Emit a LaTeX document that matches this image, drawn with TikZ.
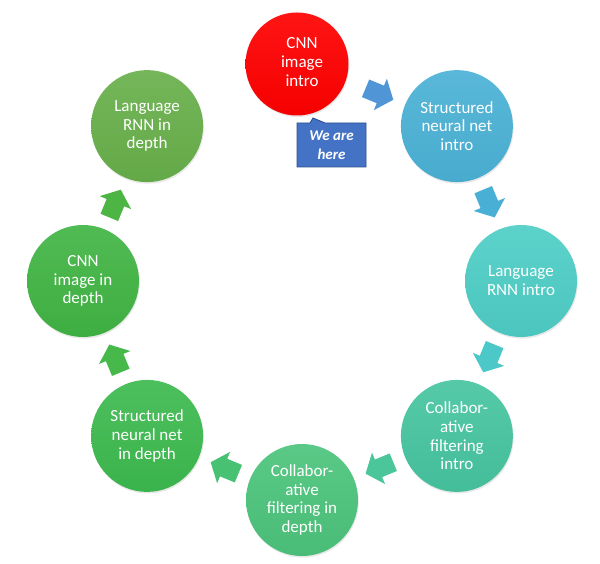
\documentclass[tikz,border=0pt]{standalone}
\usepackage{fontspec}
\setmainfont{Carlito}
\usetikzlibrary{calc,shadows}
\definecolor{cA}{HTML}{FF0000}
\definecolor{cB}{HTML}{4BB2D6}
\definecolor{cC}{HTML}{4ECEC6}
\definecolor{cD}{HTML}{47C5A0}
\definecolor{cE}{HTML}{4CC47C}
\definecolor{cF}{HTML}{3DBA4F}
\definecolor{cG}{HTML}{41B544}
\definecolor{cH}{HTML}{68B04B}
\definecolor{aA}{HTML}{5096D6}
\definecolor{aB}{HTML}{4AAFD5}
\definecolor{aC}{HTML}{4CC8C8}
\definecolor{aD}{HTML}{4BC69A}
\definecolor{aE}{HTML}{48C272}
\definecolor{aF}{HTML}{46B94A}
\definecolor{aG}{HTML}{4CB544}
\definecolor{calloutfill}{HTML}{4472C4}
\definecolor{calloutline}{HTML}{2F528F}
\begin{document}
\begin{tikzpicture}[x=1pt,y=-1pt,
  circ/.style={circle, minimum size=112pt, inner sep=0pt, align=center,
    text=white, font=\fontsize{17}{18.8}\selectfont,
    top color=#1!92!white, bottom color=#1!96!black,
    drop shadow={opacity=0.18, shadow xshift=0.8pt, shadow yshift=-1.6pt}},
  lbl/.style={align=center, text=white, font=\fontsize{17}{18.8}\selectfont, inner sep=0pt},
  barrow/.pic={\fill[pic actions] (-15,-9.5) -- (1,-9.5) -- (1,-17) -- (15,0) -- (1,17) -- (1,9.5) -- (-15,9.5) -- cycle;}
  ]
\fill[white] (0,0) rectangle (600,564);
\useasboundingbox (0,0) rectangle (600,564);

% ring positions
\coordinate (p1) at (302,62);
\node[circ=cA, minimum size=103pt] (c1) at (297,64) {};
\node[lbl] (t1) at (302,62) {CNN\\image\\intro};
\node[circ=cB] (c2) at (456.9,126.1) {Structured\\neural net\\intro};
\node[circ=cC] (c3) at (521,281) {Language\\RNN intro};
\node[circ=cD] (c4) at (456.9,435.9) {Collabor-\\ative\\filtering\\intro};
\node[circ=cE] (c5) at (302,500) {Collabor-\\ative\\filtering in\\depth};
\node[circ=cF] (c6) at (147.1,435.9) {Structured\\neural net\\in depth};
\node[circ=cG] (c7) at (83,281) {CNN\\image in\\depth};
\node[circ=cH] (c8) at (147.1,126.1) {Language\\RNN in\\depth};

% block arrows between consecutive circles
\pic[fill=aA, rotate=-22.5] at ($(p1)!0.5!(c2)$) {barrow};
\pic[fill=aB, rotate=-67.5] at ($(c2)!0.5!(c3)$) {barrow};
\pic[fill=aC, rotate=-112.5] at ($(c3)!0.5!(c4)$) {barrow};
\pic[fill=aD, rotate=-157.5] at ($(c4)!0.5!(c5)$) {barrow};
\pic[fill=aE, rotate=157.5] at ($(c5)!0.5!(c6)$) {barrow};
\pic[fill=aF, rotate=112.5] at ($(c6)!0.5!(c7)$) {barrow};
\pic[fill=aG, rotate=67.5] at ($(c7)!0.5!(c8)$) {barrow};

% callout
\draw[fill=calloutfill, draw=calloutline, line width=0.9pt, line join=miter]
  (297,123) -- (310,123) -- (313,118) -- (325,123) -- (366,123) -- (366,167) -- (297,167) -- cycle;
\node[text=white, align=center, inner sep=0pt,
  font=\fontsize{15}{18.5}\selectfont\bfseries\itshape] (we) at (331.5,145) {We are\\here};
\end{tikzpicture}
\end{document}
